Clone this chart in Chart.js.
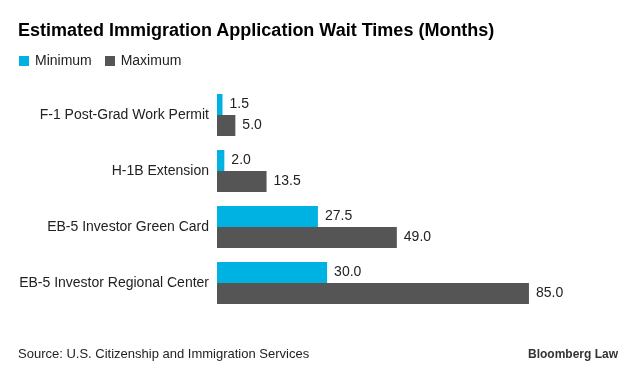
<html>
<head>
  <script src="https://cdn.jsdelivr.net/npm/chart.js"></script>
  <style>
    body { margin: 0; background: #fff; font-family: "Liberation Sans", Arial, sans-serif; }
    #wrap { position: relative; width: 633px; height: 369px; }
    #titulo { position: absolute; left: 18px; top: 20px; font-size: 18px; font-weight: bold; color: #000; }
    #legenda { position: absolute; left: 19px; top: 52px; font-size: 14px; color: #222; }
    #legenda span.box { display: inline-block; width: 10px; height: 10px; margin-right: 6px; vertical-align: -1px; }
    #fonte { position: absolute; left: 18px; top: 346px; font-size: 13px; color: #222; }
    #marca { position: absolute; right: 15px; top: 347px; font-size: 12px; font-weight: bold; color: #333; }
    canvas { position: absolute; left: 0; top: 0; }
  </style>
</head>
<body>
  <div id="wrap">
    <canvas id="grafico" width="633" height="369"></canvas>
    <div id="titulo">Estimated Immigration Application Wait Times (Months)</div>
    <div id="legenda">
      <span class="box" style="background:#00b2e2"></span>Minimum
      <span class="box" style="background:#555555;margin-left:9px"></span>Maximum
    </div>
    <div id="fonte">Source: U.S. Citizenship and Immigration Services</div>
    <div id="marca">Bloomberg Law</div>
  </div>

  <script>
    const categorias = ['F-1 Post-Grad Work Permit', 'H-1B Extension', 'EB-5 Investor Green Card', 'EB-5 Investor Regional Center'];
    const minimo = [1.5, 2.0, 27.5, 30.0];
    const maximo = [5.0, 13.5, 49.0, 85.0];

    const rotulos = {
      id: 'rotulos',
      afterDatasetsDraw(chart) {
        const ctx = chart.ctx;
        ctx.save();
        ctx.font = '14px "Liberation Sans", Arial, sans-serif';
        ctx.fillStyle = '#222';
        ctx.textBaseline = 'middle';
        chart.data.datasets.forEach((ds, i) => {
          chart.getDatasetMeta(i).data.forEach((el, j) => {
            ctx.fillText(ds.data[j].toFixed(1), el.x + 7, el.y);
          });
        });
        ctx.restore();
      }
    };

    new Chart(document.getElementById('grafico').getContext('2d'), {
      type: 'bar',
      data: {
        labels: categorias,
        datasets: [
          { label: 'Minimum', data: minimo, backgroundColor: '#00b2e2' },
          { label: 'Maximum', data: maximo, backgroundColor: '#555555' }
        ]
      },
      options: {
        indexAxis: 'y',
        responsive: false,
        animation: false,
        datasets: { bar: { barPercentage: 1, categoryPercentage: 0.75 } },
        layout: { padding: { left: 0, right: 49, top: 87, bottom: 58 } },
        plugins: { legend: { display: false }, tooltip: { enabled: false } },
        scales: {
          x: { display: false, min: 0, max: 100 },
          y: {
            grid: { display: false },
            border: { display: false },
            afterFit: s => { s.width = 217; },
            ticks: { color: '#222', padding: 0, font: { size: 14, family: '"Liberation Sans", Arial, sans-serif' } }
          }
        }
      },
      plugins: [rotulos]
    });
  </script>
</body>
</html>
